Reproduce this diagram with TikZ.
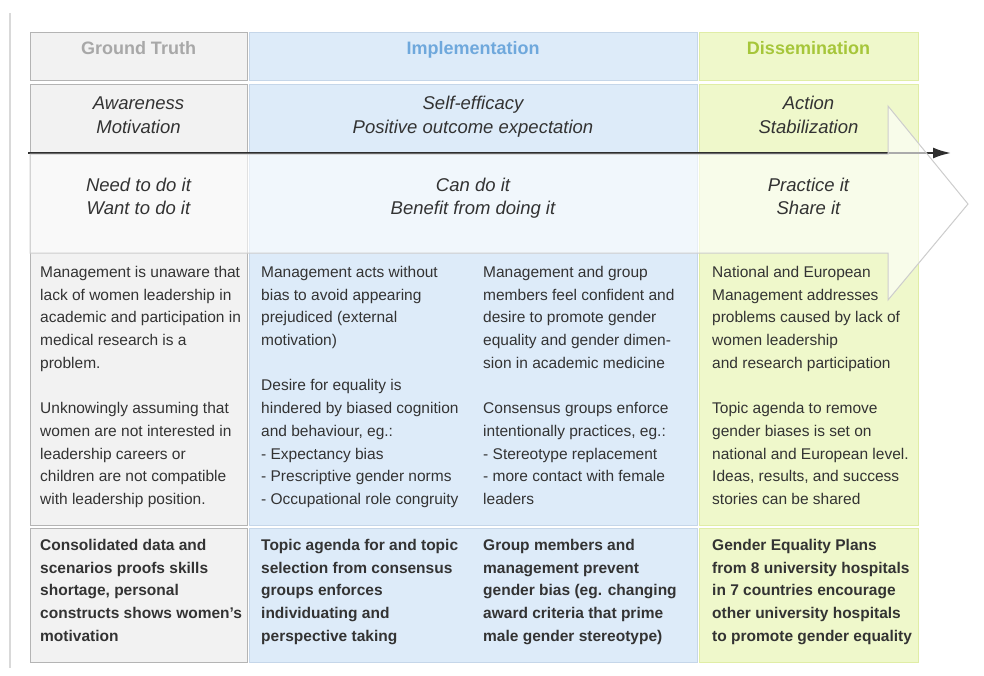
\documentclass[tikz,border=0pt]{standalone}
\usepackage{fontspec}
\setmainfont{Liberation Sans}
\usetikzlibrary{arrows.meta}
\definecolor{ink}{HTML}{333333}
\definecolor{gtfill}{HTML}{F2F2F2}
\definecolor{gtline}{HTML}{B4B4B4}
\definecolor{gthead}{HTML}{A8A8A8}
\definecolor{imfill}{HTML}{DDEBF9}
\definecolor{imline}{HTML}{C5D6E9}
\definecolor{imhead}{HTML}{6FA8DC}
\definecolor{difill}{HTML}{EFF8CB}
\definecolor{diline}{HTML}{E0EDA6}
\definecolor{dihead}{HTML}{A6C63A}
\definecolor{shaft}{HTML}{CDCDCD}

\begin{document}
\begin{tikzpicture}[x=1pt, y=-1pt,
  cell/.style={draw=#1line, fill=#1fill, line width=0.9pt, anchor=north west,
               inner sep=0pt},
  head/.style={font=\fontsize{18}{22}\selectfont\bfseries, inner sep=0pt,
               anchor=base},
  mood/.style={font=\fontsize{18.5}{23.5}\selectfont\itshape, align=center,
               text=ink, inner sep=0pt, execute at begin node=\strut,
               execute at end node=\strut},
  body/.style={font=\fontsize{15.5}{22.7}\selectfont, align=left,
               anchor=north west, inner sep=0pt, text=ink},
  goal/.style={body, font=\fontsize{15.5}{22.7}\selectfont\bfseries},
  arr/.style={-{Latex[length=18pt, width=11pt]}, line width=2.2pt, ink!90!black}]
\useasboundingbox (0,0) rectangle (984,675);
\draw[gray!30, line width=2pt] (10,13) -- (10,668);

% three phase columns: header, body, outcome
\node[cell=gt, minimum width=217pt, minimum height=48pt] (gthd) at (30,32) {};
\node[cell=im, minimum width=448pt, minimum height=48pt] (imhd) at (249,32) {};
\node[cell=di, minimum width=219pt, minimum height=48pt] (dihd) at (699,32) {};
\node[cell=gt, minimum width=217pt, minimum height=441pt] (gtbd) at (30,84) {};
\node[cell=im, minimum width=448pt, minimum height=441pt] (imbd) at (249,84) {};
\node[cell=di, minimum width=219pt, minimum height=441pt] (dibd) at (699,84) {};
\node[cell=gt, minimum width=217pt, minimum height=134pt] (gtft) at (30,528) {};
\node[cell=im, minimum width=448pt, minimum height=134pt] (imft) at (249,528) {};
\node[cell=di, minimum width=219pt, minimum height=134pt] (dift) at (699,528) {};

\node[head, text=gthead] (gtttl) at (138.5,54.5) {Ground Truth};
\node[head, text=imhead] (imttl) at (473,54.5) {Implementation};
\node[head, text=dihead] (dittl) at (808.5,54.5) {Dissemination};

% time line
\coordinate (t0) at (28,153);
\coordinate (t1) at (951,153);
\draw[arr] (t0) -- (t1);

% big open arrow over the motive row
\filldraw[fill=white, fill opacity=.6, draw=shaft, line width=1pt]
  (30,154) -- (888,154) -- (888,106) -- (968,204) -- (888,300) -- (888,253)
  -- (30,253) -- cycle;

\node[mood] (gtmood) at (138.5,118.5) {Awareness\\Motivation};
\node[mood] (immood) at (473,118.5) {Self-efficacy\\Positive outcome expectation};
\node[mood] (dimood) at (808.5,118.5) {Action\\Stabilization};
\node[mood] (gtwant) at (138.5,200) {Need to do it\\Want to do it};
\node[mood] (imwant) at (473,200) {Can do it\\Benefit from doing it};
\node[mood] (diwant) at (808.5,200) {Practice it\\Share it};

\node[body] (gttxt) at (40,266) {Management is unaware that\\lack of women leadership in\\academic and participation in\\medical research is a\\problem.\\[22.7pt]Unknowingly assuming that\\women are not interested in\\leadership careers or\\children are not compatible\\with leadership position.};
\node[body] (imtxta) at (261,266) {Management acts without\\bias to avoid appearing\\prejudiced (external\\motivation)\\[22.7pt]Desire for equality is\\hindered by biased cognition\\and behaviour, eg.:\\- Expectancy bias\\- Prescriptive gender norms\\- Occupational role congruity};
\node[body] (imtxtb) at (483,266) {Management and group\\members feel confident and\\desire to promote gender\\equality and gender dimen-\\sion in academic medicine\\[22.7pt]Consensus groups enforce\\intentionally practices, eg.:\\- Stereotype replacement\\- more contact with female\\leaders};
\node[body] (ditxt) at (712,266) {National and European\\Management addresses\\problems caused by lack of\\women leadership\\and research participation\\[22.7pt]Topic agenda to remove\\gender biases is set on\\national and European level.\\Ideas, results, and success\\stories can be shared};

\node[goal] (gtgoal) at (40,539) {Consolidated data and\\scenarios proofs skills\\shortage, personal\\constructs shows women's\\motivation};
\node[goal] (imgoala) at (261,539) {Topic agenda for and topic\\selection from consensus\\groups enforces\\individuating and\\perspective taking};
\node[goal] (imgoalb) at (483,539) {Group members and\\management prevent\\gender bias (eg. changing\\award criteria that prime\\male gender stereotype)};
\node[goal] (digoal) at (712,539) {Gender Equality Plans\\from 8 university hospitals\\in 7 countries encourage\\other university hospitals\\to promote gender equality};
\end{tikzpicture}
\end{document}
